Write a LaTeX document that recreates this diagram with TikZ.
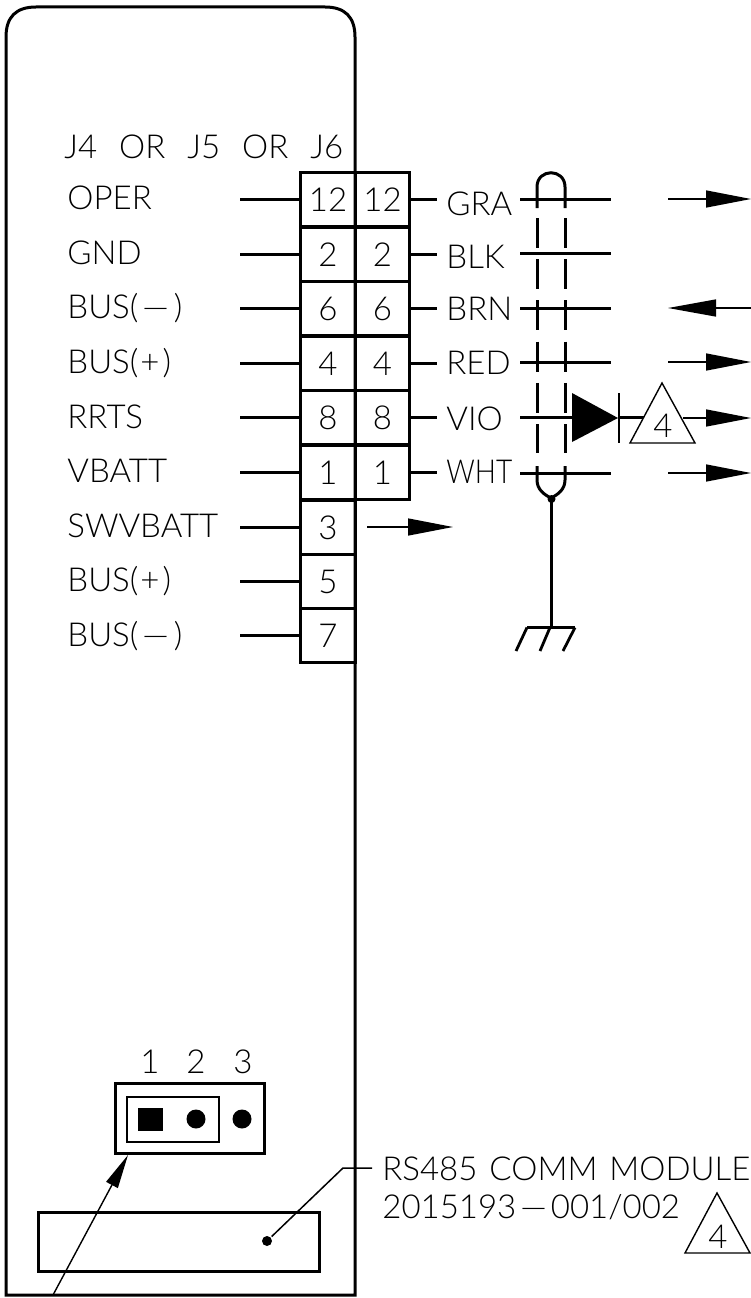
\documentclass[tikz,border=0pt]{standalone}
\usepackage{fontspec}
\setmainfont{Lato}[UprightFont=* Light]
\usetikzlibrary{arrows.meta}
\newcommand{\longdash}{\scalebox{1.7}[1]{–}}
\newcommand{\busminus}{BUS(\hspace{1pt}\longdash\hspace{2pt})}
\newcommand{\busplus}{BUS(\hspace{2pt}+\hspace{3pt})}
\begin{document}
\begin{tikzpicture}[x=1pt,y=-1pt,every path/.style={line width=2.8pt},
  pin/.style={draw,line width=3pt,minimum width=54.5pt,minimum height=54.5pt,inner sep=0pt,font=\fontsize{33}{36}\selectfont},
  lbl/.style={anchor=base west,inner sep=0pt,font=\fontsize{33}{36}\selectfont},
  flow/.style={line width=1.4pt,-{Triangle[length=45pt,width=17pt]}},
  mark4/.style={line width=1.4pt,fill=white}]
\useasboundingbox (0,0) rectangle (751,1298);
% case
\draw[line width=3pt] (6,1295) -- (6,37) .. controls (6,17) and (16,7) .. (36,7) -- (325,7) .. controls (345,7) and (355,17) .. (355,37) -- (355,1295) -- cycle;
% connector
\node[lbl] (head) at (63,158) {J4\hspace{22pt}OR\hspace{22pt}J5\hspace{22pt}OR\hspace{22pt}J6};
\node[pin] (a12) at (328,199.5) {12};
\node[pin] (a2) at (328,254.5) {2};
\node[pin] (a6) at (328,308.5) {6};
\node[pin] (a4) at (328,363.5) {4};
\node[pin] (a8) at (328,417.5) {8};
\node[pin] (a1) at (328,472.5) {1};
\node[pin] (a3) at (328,527.5) {3};
\node[pin] (a5) at (328,581.5) {5};
\node[pin] (a7) at (328,635.5) {7};
\node[pin] (b12) at (382.5,199.5) {12};
\node[pin] (b2) at (382.5,254.5) {2};
\node[pin] (b6) at (382.5,308.5) {6};
\node[pin] (b4) at (382.5,363.5) {4};
\node[pin] (b8) at (382.5,417.5) {8};
\node[pin] (b1) at (382.5,472.5) {1};
% signal names
\node[lbl] (oper) at (66,209) {OPER};
\node[lbl] (gnd) at (66,264) {GND};
\node[lbl] (busm) at (66,318) {\busminus};
\node[lbl] (busp) at (66,373) {\busplus};
\node[lbl] (rrts) at (66,428) {RRTS};
\node[lbl] (vbatt) at (66,482) {VBATT};
\node[lbl] (swv) at (66,537) {SWVBATT};
\node[lbl] (buspb) at (66,591) {\busplus};
\node[lbl] (busmb) at (66,646) {\busminus};
\draw (240,199.5) -- (a12);
\draw (240,254.5) -- (a2);
\draw (240,308.5) -- (a6);
\draw (240,363.5) -- (a4);
\draw (240,417.5) -- (a8);
\draw (240,472.5) -- (a1);
\draw (240,527.5) -- (a3);
\draw (240,581.5) -- (a5);
\draw (240,635.5) -- (a7);
% wire colours
\node[lbl] (gra) at (445,215) {GRA};
\node[lbl] (blk) at (445,268) {BLK};
\node[lbl] (brn) at (445,320) {BRN};
\node[lbl] (red) at (445,374) {RED};
\node[lbl] (vio) at (445,430) {VIO};
\node[lbl] (wht) at (445,483) {\scalebox{.85}[1]{WHT}};
\draw (b12) -- (437,199.5);
\draw (b2) -- (437,254.5);
\draw (b6) -- (437,308.5);
\draw (b4) -- (437,363.5);
\draw (b8) -- (437,417.5);
\draw (b1) -- (437,472.5);
\draw (520,199.5) -- (611,199.5);
\draw (520,253.5) -- (611,253.5);
\draw (520,308.5) -- (611,308.5);
\draw (520,362.5) -- (611,362.5);
\draw (520,417.5) -- (572,417.5);
\draw (520,473.5) -- (611,473.5);
% shield
\draw[line width=3pt] (537,208) -- (537,187) .. controls (537,168) and (565,168) .. (565,187) -- (565,208);
\draw[line width=3pt,dash pattern=on 30pt off 11.2pt] (537,218) -- (537,453);
\draw[line width=3pt,dash pattern=on 30pt off 11.2pt] (565,218) -- (565,453);
\draw[line width=3pt] (537,466) -- (537,480) .. controls (537,490) and (545,495) .. (551,498) .. controls (557,495) and (565,490) .. (565,480) -- (565,466);
\node[circle,fill,inner sep=0pt,minimum size=8pt] (drain) at (551.5,499) {};
\coordinate (gnd0) at (551.5,627.5);
\draw (drain.center) -- (gnd0);
\draw (527,627.5) -- (575,627.5);
\draw (527,627.5) -- (516,651);
\draw (550,627.5) -- (540,651);
\draw (575,627.5) -- (563,651);
% diode
\fill (572,393) -- (618,418) -- (572,442) -- cycle;
\draw (619,393) -- (619,443);
\draw (619,417.5) -- (645,417.5);
\draw[mark4] (662,383) -- (630,443) -- (695,443) -- cycle;
\node[inner sep=0pt,font=\fontsize{33}{36}\selectfont] (vio4) at (663,426) {4};
% flow arrows
\draw[flow] (668,199) -- (751,199);
\draw[flow] (668,362) -- (751,362);
\draw[flow] (683,418) -- (751,418);
\draw[flow] (668,473) -- (751,473);
\draw[flow,-,{Triangle[length=48pt,width=17pt]}-] (668,308) -- (751,308);
\draw[flow] (367,527) -- (453,527);
% jumper
\node[lbl] (n1) at (139,1073) {1};
\node[lbl] (n2) at (185,1073) {2};
\node[lbl] (n3) at (232,1073) {3};
\node[draw,line width=3pt,minimum width=149pt,minimum height=70pt,inner sep=0pt] (jmp) at (189.5,1118) {};
\node[draw,line width=1.4pt,minimum width=92pt,minimum height=45pt,inner sep=0pt] (link) at (173,1119.5) {};
\node[fill,minimum width=25pt,minimum height=23pt,inner sep=0pt] (p1) at (150.5,1119.5) {};
\node[circle,fill,inner sep=0pt,minimum size=19pt] (p2) at (196,1119) {};
\node[circle,fill,inner sep=0pt,minimum size=19pt] (p3) at (242,1119) {};
% module
\node[draw,line width=3pt,minimum width=281pt,minimum height=59pt,inner sep=0pt] (mod) at (178.5,1241.5) {};
\node[circle,fill,inner sep=0pt,minimum size=10pt] (moddot) at (267,1241) {};
\coordinate (lead) at (343,1168);
\draw[line width=1.5pt] (moddot) -- (lead) -- (372,1168);
\node[lbl] (rs) at (381,1180) {RS485\hspace{12pt}COMM\hspace{12pt}MODULE};
\node[lbl] (part) at (381,1218) {2015193\hspace{1pt}\longdash\hspace{1pt}001/002};
\draw[mark4] (717,1193) -- (685,1253) -- (750,1253) -- cycle;
\node[inner sep=0pt,font=\fontsize{33}{36}\selectfont] (mod4) at (718,1237) {4};
\coordinate (tail) at (53,1295);
\coordinate (jmpcorner) at (128,1155);
\draw[line width=1.4pt,-{Triangle[length=34pt,width=13pt]}] (tail) -- (jmpcorner);
\end{tikzpicture}
\end{document}
